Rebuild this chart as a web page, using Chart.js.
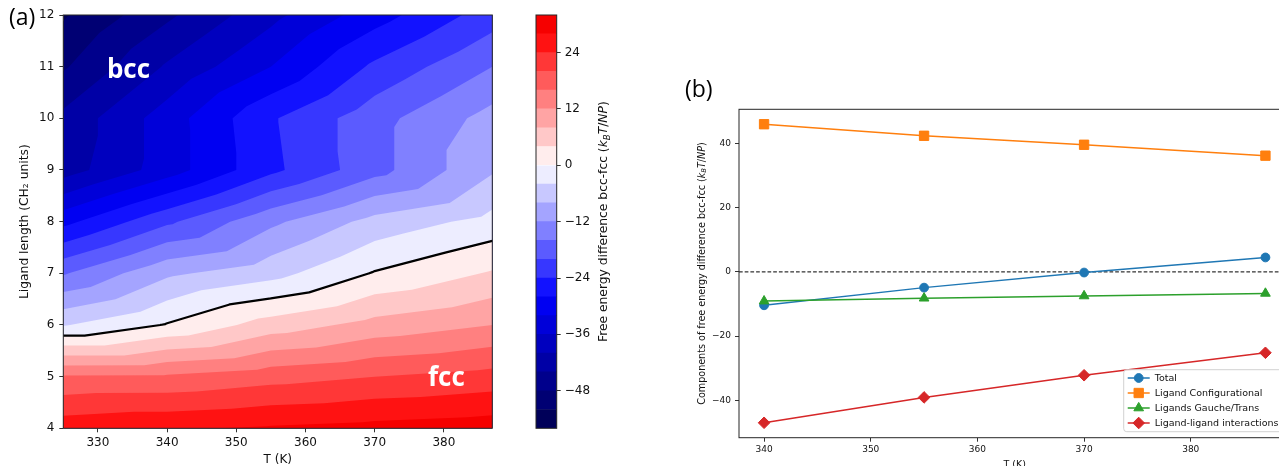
<!DOCTYPE html>
<html>
<head>
<meta charset="utf-8">
<script src="https://cdn.jsdelivr.net/npm/chart.js@4.4.1/dist/chart.umd.min.js"></script>
<style>
  html, body { margin: 0; padding: 0; background: #fff; }
  #page { position: relative; width: 1279px; height: 466px; overflow: hidden; background: #fff; }
  canvas { position: absolute; top: 0; }
  .tag { position: absolute; font-family: "Open Sans"; font-size: 23px; line-height: 23px; color: #000; }
</style>
</head>
<body>
<div id="page">
  <canvas id="contour" width="520" height="466" style="left:0"></canvas>
  <canvas id="cbar" width="140" height="466" style="left:500px"></canvas>
  <canvas id="lines" width="660" height="466" style="left:640px"></canvas>
  <div class="tag" style="left:9px;top:5px">(a)</div>
  <div class="tag" style="left:685px;top:77px">(b)</div>
</div>
<script>
// ---- panel (a): free energy difference bcc-fcc on a T x ligand length grid
const tempNodes = [325, 340, 355, 370, 387];
const lengthNodes = [4, 5, 6, 7, 8, 9, 10, 11, 12];
const dG_L4  = [26.4, 27.5, 28.5, 29.3, 30.2];
const dG_L5  = [16.5, 16.6, 18.4, 20.0, 21.5];
const dG_L6  = [-4.3, 0.3, 5.8, 9.4, 12.0];
const dG_L7  = [-16.4, -8.8, -5.5, 0.3, 4.4];
const dG_L8  = [-29.2, -20.8, -12.9, -6.6, -2.6];
const dG_L9  = [-42.0, -34.0, -25.0, -17.5, -8.5];
const dG_L10 = [-43.0, -34.0, -24.5, -17.5, -10.5];
const dG_L11 = [-48.5, -39.5, -32.0, -23.2, -16.0];
const dG_L12 = [-52.5, -44.8, -37.2, -29.8, -22.0];
const contourLevels = [-56, -52, -48, -44, -40, -36, -32, -28, -24, -20, -16, -12, -8, -4,
                       0, 4, 8, 12, 16, 20, 24, 28, 32];
const boundaryLevel = 0;
const aTicksX = [330, 340, 350, 360, 370, 380];
const aTicksY = [4, 5, 6, 7, 8, 9, 10, 11, 12];
const cbarTicks = [-48, -36, -24, -12, 0, 12, 24];

// ---- panel (b): components of the free energy difference
const temps = [340, 355, 370, 387];
const total = [-10.4, -4.9, -0.2, 4.5];
const configurational = [46.0, 42.4, 39.6, 36.2];
const gaucheTrans = [-9.1, -8.2, -7.5, -6.7];
const ligandInteractions = [-47.0, -39.1, -32.2, -25.2];
const bTicksX = [340, 350, 360, 370, 380];
const bTicksY = [-40, -20, 0, 20, 40];

const FONT = '"DejaVu Sans", sans-serif';
Chart.defaults.font.family = FONT;
Chart.defaults.color = '#111';

const dGrid = [dG_L4, dG_L5, dG_L6, dG_L7, dG_L8, dG_L9, dG_L10, dG_L11, dG_L12];
const minus = v => String(v).replace('-', '\u2212');

// seismic colormap, centred on zero
const seismicStops = [[0, [0, 0, 0.3]], [0.25, [0, 0, 1]], [0.5, [1, 1, 1]], [0.75, [1, 0, 0]], [1, [0.5, 0, 0]]];
function seismic(n) {
  n = Math.max(0, Math.min(1, n));
  for (let i = 1; i < seismicStops.length; i++) {
    const [n1, c1] = seismicStops[i];
    const [n0, c0] = seismicStops[i - 1];
    if (n <= n1) {
      const t = (n - n0) / (n1 - n0);
      const c = c0.map((v, k) => Math.round(255 * (v + t * (c1[k] - v))));
      return `rgb(${c[0]},${c[1]},${c[2]})`;
    }
  }
}
const halfRange = Math.max(...contourLevels.map(Math.abs));
function bandColor(k) {
  const mid = (contourLevels[k] + contourLevels[k + 1]) / 2;
  return seismic((mid + halfRange) / (2 * halfRange));
}

// split each grid cell in two triangles (diagonal top-left to bottom-right)
function gridTriangles() {
  const tris = [];
  const p = (i, j) => ({ x: tempNodes[i], y: lengthNodes[j], z: dGrid[j][i] });
  for (let j = 0; j < lengthNodes.length - 1; j++) {
    for (let i = 0; i < tempNodes.length - 1; i++) {
      tris.push([p(i, j), p(i + 1, j), p(i, j + 1)]);
      tris.push([p(i + 1, j), p(i + 1, j + 1), p(i, j + 1)]);
    }
  }
  return tris;
}

// keep the part of a polygon where z >= level
function clipAbove(poly, level) {
  const out = [];
  for (let i = 0; i < poly.length; i++) {
    const a = poly[i], b = poly[(i + 1) % poly.length];
    const ina = a.z >= level, inb = b.z >= level;
    if (ina) out.push(a);
    if (ina !== inb) {
      const t = (level - a.z) / (b.z - a.z);
      out.push({ x: a.x + t * (b.x - a.x), y: a.y + t * (b.y - a.y), z: level });
    }
  }
  return out;
}

function crossings(tri, c) {
  const pts = [];
  for (let k = 0; k < 3; k++) {
    const a = tri[k], b = tri[(k + 1) % 3];
    if ((a.z >= c) !== (b.z >= c)) {
      const t = (c - a.z) / (b.z - a.z);
      pts.push({ x: a.x + t * (b.x - a.x), y: a.y + t * (b.y - a.y) });
    }
  }
  return pts;
}

// text made of parts (normal / italic / subscript), optionally rotated
function drawRich(ctx, parts, cx, cy, size, rotate) {
  ctx.save();
  ctx.translate(cx, cy);
  if (rotate) ctx.rotate(-Math.PI / 2);
  let totalW = 0;
  const fonts = parts.map(p => {
    const s = p.sub ? size * 0.7 : size;
    const f = (p.italic ? 'italic ' : '') + s + 'px ' + FONT;
    ctx.font = f;
    const w = ctx.measureText(p.t).width;
    totalW += w;
    return { f, w };
  });
  let x = -totalW / 2;
  ctx.textBaseline = 'middle';
  ctx.textAlign = 'left';
  ctx.fillStyle = '#111';
  parts.forEach((p, i) => {
    ctx.font = fonts[i].f;
    ctx.fillText(p.t, x, p.sub ? size * 0.28 : 0);
    x += fonts[i].w;
  });
  ctx.restore();
}
const unitParts = [
  { t: '(' }, { t: 'k', italic: true }, { t: 'B', italic: true, sub: true },
  { t: 'T', italic: true }, { t: '/' }, { t: 'NP', italic: true }, { t: ')' }
];

function frame(chart) {
  const { ctx, chartArea: ca } = chart;
  ctx.save();
  ctx.strokeStyle = '#262626';
  ctx.lineWidth = 1;
  ctx.strokeRect(ca.left, ca.top, ca.right - ca.left, ca.bottom - ca.top);
  ctx.restore();
}

const phaseLabels = [{ text: 'bcc', T: 331.3, L: 10.79 }, { text: 'fcc', T: 377.7, L: 4.82 }];

const contourPlugin = {
  id: 'contour',
  beforeDatasetsDraw(chart) {
    const { ctx, chartArea: ca, scales: { x, y } } = chart;
    const tris = gridTriangles();
    const X = v => x.getPixelForValue(v), Y = v => y.getPixelForValue(v);
    ctx.save();
    ctx.beginPath();
    ctx.rect(ca.left, ca.top, ca.right - ca.left, ca.bottom - ca.top);
    ctx.clip();
    // each level paints the whole region above it; the next level paints over it
    for (let k = 0; k < contourLevels.length - 1; k++) {
      ctx.beginPath();
      tris.forEach(tri => {
        const poly = clipAbove(tri, contourLevels[k]);
        if (poly.length < 3) return;
        poly.forEach((p, i) => i ? ctx.lineTo(X(p.x), Y(p.y)) : ctx.moveTo(X(p.x), Y(p.y)));
        ctx.closePath();
      });
      ctx.fillStyle = bandColor(k);
      ctx.fill('nonzero');
    }
    // phase boundary
    ctx.strokeStyle = '#000';
    ctx.lineWidth = 2.2;
    ctx.lineCap = 'round';
    ctx.lineJoin = 'round';
    ctx.beginPath();
    tris.forEach(tri => {
      const pts = crossings(tri, boundaryLevel);
      if (pts.length !== 2) return;
      ctx.moveTo(X(pts[0].x), Y(pts[0].y));
      ctx.lineTo(X(pts[1].x), Y(pts[1].y));
    });
    ctx.stroke();
    ctx.restore();
  },
  afterDraw(chart) {
    const { ctx, chartArea: ca, scales: { x, y } } = chart;
    frame(chart);
    ctx.save();
    ctx.fillStyle = '#fff';
    ctx.font = 'bold 26px "Open Sans"';
    ctx.textBaseline = 'alphabetic';
    phaseLabels.forEach(l => ctx.fillText(l.text, x.getPixelForValue(l.T), y.getPixelForValue(l.L)));
    ctx.fillStyle = '#111';
    ctx.font = '12px ' + FONT;
    ctx.textAlign = 'center';
    ctx.fillText('T (K)', (ca.left + ca.right) / 2, 463);
    ctx.restore();
    drawRich(ctx, [{ t: 'Ligand length (CH\u2082 units)' }], 25, (ca.top + ca.bottom) / 2, 12.3, true);
  }
};

new Chart(document.getElementById('contour'), {
  type: 'scatter',
  data: { datasets: [] },
  options: {
    responsive: false,
    animation: false,
    layout: { padding: { left: 0, top: 15, right: 520 - 492.3, bottom: 0 } },
    plugins: { legend: { display: false }, tooltip: { enabled: false } },
    scales: {
      x: {
        type: 'linear', min: tempNodes[0], max: tempNodes[tempNodes.length - 1],
        afterBuildTicks: s => { s.ticks = aTicksX.map(v => ({ value: v })); },
        afterFit: s => { s.height = 466 - 428.3; },
        grid: { drawOnChartArea: false, tickLength: 4, color: '#333' },
        border: { display: false },
        ticks: { font: { size: 12 }, padding: 3, maxRotation: 0 }
      },
      y: {
        type: 'linear', min: lengthNodes[0], max: lengthNodes[lengthNodes.length - 1],
        afterBuildTicks: s => { s.ticks = aTicksY.map(v => ({ value: v })); },
        afterFit: s => { s.width = 63.3; },
        grid: { drawOnChartArea: false, tickLength: 4, color: '#333' },
        border: { display: false },
        ticks: { font: { size: 12 }, padding: 5 }
      }
    }
  },
  plugins: [contourPlugin]
});

// ---- colorbar
const cbarPlugin = {
  id: 'cbarFrame',
  afterDraw(chart) {
    const { ctx, chartArea: ca } = chart;
    frame(chart);
    drawRich(ctx, [{ t: 'Free energy difference bcc-fcc ' }, ...unitParts], 104, (ca.top + ca.bottom) / 2, 12.3, true);
  }
};

new Chart(document.getElementById('cbar'), {
  type: 'bar',
  data: {
    labels: [''],
    datasets: contourLevels.slice(0, -1).map((lo, k) => ({
      data: [[lo, contourLevels[k + 1]]],
      backgroundColor: bandColor(k),
      borderWidth: 0,
      grouped: false,
      barPercentage: 1,
      categoryPercentage: 1
    }))
  },
  options: {
    responsive: false,
    animation: false,
    layout: { padding: { left: 36, top: 15, right: 0, bottom: 466 - 428.3 } },
    plugins: { legend: { display: false }, tooltip: { enabled: false } },
    scales: {
      x: { display: false },
      y: {
        position: 'right',
        min: contourLevels[0], max: contourLevels[contourLevels.length - 1],
        afterBuildTicks: s => { s.ticks = cbarTicks.map(v => ({ value: v })); },
        afterFit: s => { s.width = 140 - 56.7; },
        grid: { drawOnChartArea: false, tickLength: 4, color: '#333' },
        border: { display: false },
        ticks: { font: { size: 12 }, padding: 4, callback: v => minus(v) }
      }
    }
  },
  plugins: [cbarPlugin]
});

// ---- panel (b)
const series = [
  { label: 'Total', values: total, color: '#1f77b4', style: 'circle', r: 4.4 },
  { label: 'Ligand Configurational', values: configurational, color: '#ff7f0e', style: 'rect', r: 6.6 },
  { label: 'Ligands Gauche/Trans', values: gaucheTrans, color: '#2ca02c', style: 'triangle', r: 5.6 },
  { label: 'Ligand-ligand interactions', values: ligandInteractions, color: '#d62728', style: 'rectRot', r: 5.8 }
];

const allB = [].concat(total, configurational, gaucheTrans, ligandInteractions);
const xPad = 0.05 * (Math.max(...temps) - Math.min(...temps));
const yPad = 0.05 * (Math.max(...allB) - Math.min(...allB));

function drawLegend(chart) {
  const { ctx, chartArea: ca } = chart;
  const sets = chart.data.datasets;
  ctx.save();
  ctx.font = '9.5px ' + FONT;
  const textW = Math.max(...sets.map(d => ctx.measureText(d.label).width));
  const right = ca.right - 6, bottom = ca.bottom - 6;
  const width = 31 + textW + 6, height = 62;
  const left = right - width, top = bottom - height;
  ctx.beginPath();
  ctx.roundRect(left, top, width, height, 3);
  ctx.fillStyle = 'rgba(255,255,255,0.8)';
  ctx.fill();
  ctx.strokeStyle = 'rgba(204,204,204,0.9)';
  ctx.lineWidth = 1;
  ctx.stroke();
  sets.forEach((d, i) => {
    const yy = top + 8.3 + i * 15;
    ctx.strokeStyle = d.borderColor;
    ctx.fillStyle = d.backgroundColor;
    ctx.lineWidth = 1.5;
    ctx.beginPath();
    ctx.moveTo(left + 4, yy);
    ctx.lineTo(left + 26, yy);
    ctx.stroke();
    ctx.lineWidth = 1;
    Chart.helpers.drawPoint(ctx, { pointStyle: d.pointStyle, radius: d.pointRadius, borderWidth: 1, rotation: 0 }, left + 15, yy);
    ctx.fillStyle = '#111';
    ctx.textBaseline = 'middle';
    ctx.fillText(d.label, left + 31, yy + 0.5);
  });
  ctx.restore();
}

const linesPlugin = {
  id: 'linesExtras',
  beforeDatasetsDraw(chart) {
    const { ctx, chartArea: ca, scales: { y } } = chart;
    const yy = y.getPixelForValue(boundaryLevel);
    ctx.save();
    ctx.strokeStyle = '#000';
    ctx.lineWidth = 1;
    ctx.setLineDash([3.7, 2]);
    ctx.beginPath();
    ctx.moveTo(ca.left, yy);
    ctx.lineTo(ca.right, yy);
    ctx.stroke();
    ctx.restore();
  },
  afterDraw(chart) {
    const { ctx, chartArea: ca } = chart;
    frame(chart);
    drawLegend(chart);
    ctx.save();
    ctx.fillStyle = '#111';
    ctx.font = '9.5px ' + FONT;
    ctx.textAlign = 'center';
    ctx.textBaseline = 'alphabetic';
    ctx.fillText('T (K)', (ca.left + ca.right) / 2, 467);
    ctx.restore();
    drawRich(ctx, [{ t: 'Components of free energy difference bcc-fcc ' }, ...unitParts], 62, (ca.top + ca.bottom) / 2, 9.6, true);
  }
};

new Chart(document.getElementById('lines'), {
  type: 'scatter',
  data: {
    datasets: series.map((s, i) => ({
      label: s.label,
      data: temps.map((t, k) => ({ x: t, y: s.values[k] })),
      showLine: true,
      borderColor: s.color,
      backgroundColor: s.color,
      borderWidth: 1.5,
      pointStyle: s.style,
      pointRadius: s.r,
      pointBorderWidth: 1,
      pointBorderColor: s.color,
      pointBackgroundColor: s.color,
      order: series.length - i
    }))
  },
  options: {
    responsive: false,
    animation: false,
    layout: { padding: { left: 0, top: 109.3, right: 9.5, bottom: 0 } },
    plugins: { legend: { display: false }, tooltip: { enabled: false } },
    scales: {
      x: {
        type: 'linear', min: Math.min(...temps) - xPad, max: Math.max(...temps) + xPad,
        afterBuildTicks: s => { s.ticks = bTicksX.map(v => ({ value: v })); },
        afterFit: s => { s.height = 466 - 437.7; },
        grid: { drawOnChartArea: false, tickLength: 4, color: '#333' },
        border: { display: false },
        ticks: { font: { size: 9 }, padding: 3, maxRotation: 0 }
      },
      y: {
        type: 'linear', min: Math.min(...allB) - yPad, max: Math.max(...allB) + yPad,
        afterBuildTicks: s => { s.ticks = bTicksY.map(v => ({ value: v })); },
        afterFit: s => { s.width = 99; },
        grid: { drawOnChartArea: false, tickLength: 4, color: '#333' },
        border: { display: false },
        ticks: { font: { size: 9 }, padding: 4, callback: v => minus(v) }
      }
    }
  },
  plugins: [linesPlugin]
});
</script>
</body>
</html>
